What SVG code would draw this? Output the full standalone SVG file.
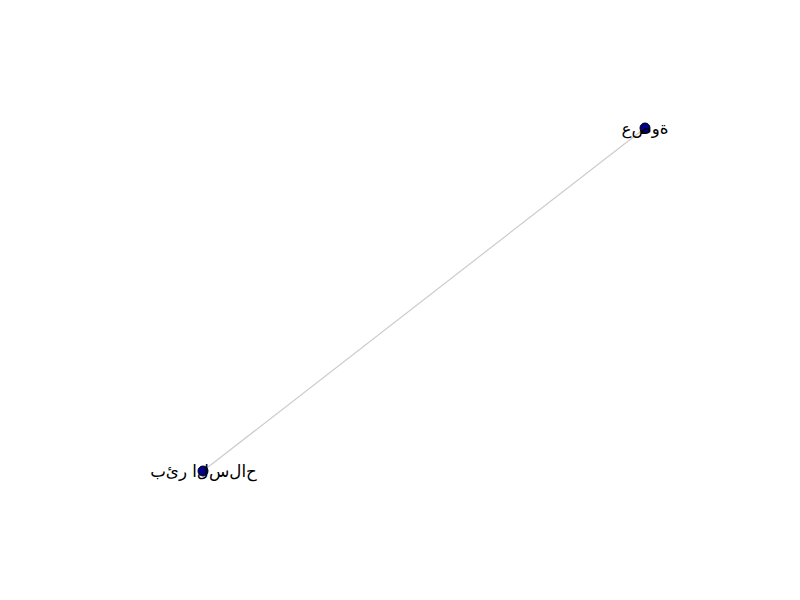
<svg xmlns="http://www.w3.org/2000/svg" width="800" height="600" viewBox="0 0 800 600">
<style>
.edge{stroke:#cccccc;stroke-width:1.2;fill:none}
.node circle{fill:#00008b;stroke:#000000;stroke-width:1}
.node text{font-family:"DejaVu Sans","Noto Sans",sans-serif;font-size:16.67px;fill:#000;text-anchor:middle;dominant-baseline:central;direction:ltr;unicode-bidi:bidi-override;font-feature-settings:"init" 0,"medi" 0,"fina" 0,"rlig" 0,"liga" 0,"calt" 0}
</style>
<rect width="800" height="600" fill="#ffffff"/>
<g id="edges">
<line class="edge" x1="645" y1="128" x2="203" y2="471"/>
</g>
<g id="node-asawa" class="node">
<circle cx="645" cy="128" r="5"/>
<text x="645" y="128">عصوة</text>
</g>
<g id="node-bir-alsilah" class="node">
<circle cx="203" cy="471" r="5"/>
<text x="203.5" y="471">بئر السلاح</text>
</g>
</svg>
